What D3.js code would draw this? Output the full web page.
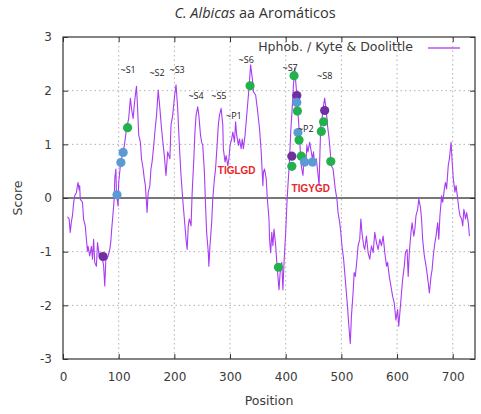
<!DOCTYPE html>
<html><head><meta charset="utf-8">
<script src="https://cdn.jsdelivr.net/npm/d3@7"></script>
<style>body{margin:0;background:#fff}svg{display:block}</style>
</head><body>
<svg id="chart" width="481" height="414"></svg>
<script>
// ---- data ----
const xTicks = [0,100,200,300,400,500,600,700];
const yTicks = [-3,-2,-1,0,1,2,3];
const seriesName = "Hphob. / Kyte & Doolittle";
const profile = [[8,-0.35],[11,-0.39],[13,-0.64],[15,-0.45],[17,-0.33],[19,-0.1],[21,0.04],[24,0.1],[27,0.29],[29,0.15],[30,0.23],[31,-0.02],[35,-0.08],[37,-0.4],[40,-0.52],[42,-0.77],[44,-0.99],[45,-0.9],[48,-1.08],[51,-0.9],[53,-1.14],[55,-0.77],[57,-1.2],[60,-1.27],[62,-0.83],[65,-1.08],[67,-1.02],[71,-1.14],[73,-1.27],[75,-1.64],[77,-1.14],[79,-1.14],[81,-1.08],[84,-0.96],[86,-0.8],[87,-0.64],[90,-0.27],[92,-0.02],[93,0.36],[95,0.54],[96,0.1],[98,-0.08],[99,-0.15],[100,0.29],[103,0.6],[106,0.79],[109,0.9],[111,1.04],[114,1.29],[118,1.48],[121,1.86],[123,1.67],[126,1.48],[128,1.73],[130,1.92],[132,2.08],[134,1.67],[136,1.17],[139,1.04],[141,0.73],[144,0.54],[146,0.36],[148,0.23],[151,-0.27],[153,0.1],[156,0.23],[158,0.54],[160,0.67],[163,0.98],[165,1.23],[168,1.54],[171,2.01],[174,1.67],[177,1.29],[180,0.98],[182,0.79],[185,0.42],[188,0.86],[192,0.73],[194,1.36],[197,1.54],[200,1.86],[203,2.11],[206,1.67],[209,0.98],[212,0.42],[215,-0.02],[218,-0.39],[221,-0.77],[223,-0.96],[225,-0.52],[227,-0.39],[230,-0.52],[232,0.1],[235,0.73],[237,1.23],[239,1.54],[242,1.7],[244,1.54],[247,1.17],[249,1.04],[251,0.98],[254,0.48],[256,-0.14],[258,-0.64],[261,-1.02],[262,-1.27],[264,-0.89],[267,-0.46],[269,-0.02],[272,0.36],[274,0.54],[276,0.86],[279,1.36],[281,1.54],[284,1.67],[287,1.36],[288,0.92],[291,0.67],[293,0.79],[296,0.6],[298,0.73],[300,0.98],[303,1.1],[305,1.23],[308,1.04],[310,1.42],[312,1.17],[315,0.98],[317,1.1],[320,0.92],[322,1.1],[324,0.92],[327,1.17],[329,1.42],[332,1.79],[334,2.04],[337,2.48],[340,2.23],[342,1.98],[346,1.92],[349,1.67],[353,1.29],[356,0.86],[359,0.23],[360,0.48],[362,0.54],[365,0.36],[367,-0.02],[370,-0.39],[371,-0.77],[373,-1.02],[375,-0.64],[377,-0.89],[379,-0.58],[382,-0.89],[384,-1.2],[388,-1.71],[390,-1.39],[393,-1.2],[395,-1.71],[397,-1.2],[400,-0.64],[402,-0.14],[404,0.23],[407,0.73],[409,1.23],[412,1.73],[414,2.11],[416,2.42],[419,2.04],[421,1.73],[424,1.29],[426,0.92],[428,0.6],[431,0.42],[433,0.73],[436,0.6],[438,0.98],[440,0.86],[443,1.04],[445,0.92],[448,0.73],[450,0.86],[452,0.6],[455,0.73],[457,0.54],[460,0.23],[461,0.67],[463,1.36],[466,1.54],[468,1.73],[470,1.86],[473,1.61],[475,1.36],[478,1.1],[480,0.86],[482,0.6],[485,0.54],[487,0.36],[489,0.17],[492,-0.02],[494,-0.27],[497,-0.46],[499,-0.64],[501,-0.89],[504,-1.14],[506,-1.39],[509,-1.77],[511,-2.02],[513,-2.33],[516,-2.71],[518,-2.21],[521,-1.77],[523,-1.39],[525,-1.46],[528,-1.14],[530,-0.89],[533,-0.77],[535,-0.39],[537,-0.64],[540,-0.89],[542,-0.96],[545,-0.71],[548,-1.02],[551,-1.14],[554,-0.89],[557,-1.02],[560,-0.64],[563,-0.83],[566,-0.96],[569,-0.77],[572,-0.89],[575,-0.71],[578,-1.02],[581,-1.27],[583,-1.2],[586,-1.46],[589,-1.64],[592,-1.83],[595,-1.96],[598,-2.27],[601,-2.08],[603,-2.39],[606,-2.02],[608,-1.77],[610,-1.52],[613,-1.27],[615,-1.02],[618,-0.96],[620,-1.46],[622,-1.02],[625,-0.64],[627,-0.46],[630,-0.71],[632,-0.58],[634,-0.33],[637,-0.21],[639,-0.02],[642,-0.17],[644,-0.39],[646,-0.77],[649,-1.08],[651,-1.2],[653,-1.33],[656,-1.58],[658,-1.77],[661,-1.46],[663,-1.33],[665,-1.08],[668,-0.83],[670,-0.71],[673,-0.46],[675,-0.77],[677,-0.33],[680,0.04],[682,-0.08],[685,0.17],[687,0.29],[689,0.17],[692,0.61],[694,0.73],[697,1.04],[699,0.67],[701,0.36],[704,0.11],[706,0.23],[709,-0.02],[711,-0.21],[713,-0.33],[716,-0.39],[718,-0.52],[720,-0.21],[723,-0.39],[725,-0.27],[728,-0.46],[730,-0.71]];
// highlighted residues: [position, score, kind]
const markers = [[72,-1.09,"purple"],[97,0.06,"blue"],[104,0.66,"blue"],[108,0.85,"blue"],[116,1.31,"green"],[336,2.09,"green"],[387,-1.29,"green"],[415,2.28,"green"],[420,1.91,"purple"],[420,1.78,"blue"],[421,1.62,"green"],[422,1.22,"blue"],[424,1.08,"green"],[411,0.78,"purple"],[411,0.59,"green"],[428,0.78,"green"],[434,0.67,"blue"],[448,0.67,"blue"],[464,1.24,"green"],[468,1.42,"green"],[470,1.63,"purple"],[481,0.68,"green"]];
// annotations: [text, position, score, kind]
const notes = [["~S1",117,2.37,"n"],["~S2",169,2.32,"n"],["~S3",205,2.37,"n"],["~S4",239,1.89,"n"],["~S5",280,1.89,"n"],["~P1",307,1.51,"n"],["~S6",329,2.56,"n"],["~S7",408,2.41,"n"],["~S8",470,2.26,"n"],["~P2",436,1.27,"n"],["TIGLGD",312,0.49,"r"],["TIGYGD",445,0.17,"r"]];

// ---- drawing ----
const svg = d3.select("#chart");
const L=63, R=475, T=37, B=359;
const x = d3.scaleLinear().domain([0,740]).range([L,R]);
const y = d3.scaleLinear().domain([-3,3]).range([B,T]);
const tickFont = "'DejaVu Sans', sans-serif";
const col = {green:"#22b14c", blue:"#5b9bd5", purple:"#7030a0"};
const lineCol = "#a93cf2";

// grid
const g = svg.append("g");
g.selectAll(".gx").data(xTicks.filter(d=>d>0)).join("line")
  .attr("x1",d=>x(d)).attr("x2",d=>x(d)).attr("y1",T).attr("y2",B)
  .attr("stroke","#b0b0b0").attr("stroke-width",1).attr("stroke-dasharray","1.5,3");
g.selectAll(".gy").data(yTicks.filter(d=>d>-3&&d<3&&d!==0)).join("line")
  .attr("y1",d=>y(d)).attr("y2",d=>y(d)).attr("x1",L).attr("x2",R)
  .attr("stroke","#b0b0b0").attr("stroke-width",1).attr("stroke-dasharray","1.5,3");
// zero line
g.append("line").attr("x1",L).attr("x2",R).attr("y1",y(0)).attr("y2",y(0))
  .attr("stroke","#4a4a4a").attr("stroke-width",1.5);

// axes with inward ticks
const ax = svg.append("g").attr("transform",`translate(0,${B})`)
  .call(d3.axisBottom(x).tickValues(xTicks).tickSize(-5).tickPadding(13));
const axT = svg.append("g").attr("transform",`translate(0,${T})`)
  .call(d3.axisTop(x).tickValues(xTicks).tickSize(-5).tickFormat(""));
const ay = svg.append("g").attr("transform",`translate(${L},0)`)
  .call(d3.axisLeft(y).tickValues(yTicks).tickSize(-5).tickPadding(11).tickFormat(d3.format("d")));
const ayR = svg.append("g").attr("transform",`translate(${R},0)`)
  .call(d3.axisRight(y).tickValues(yTicks).tickSize(-5).tickFormat(""));
[ax,axT,ay,ayR].forEach(a=>{
  a.select(".domain").remove();
  a.selectAll(".tick line").attr("stroke","#333");
  a.selectAll("text").attr("font-family",tickFont).attr("font-size",12).attr("fill","#3a3a3a");
});
ay.selectAll("text").text(d=>d<0?"-"+Math.abs(d):d);

// line
svg.append("path").datum(profile)
  .attr("d", d3.line().x(d=>x(d[0])).y(d=>y(d[1])))
  .attr("fill","none").attr("stroke",lineCol).attr("stroke-width",1.1).attr("stroke-linejoin","round");

// frame
svg.append("rect").attr("x",L).attr("y",T).attr("width",R-L).attr("height",B-T)
  .attr("fill","none").attr("stroke","#333").attr("stroke-width",1.2);

// markers
svg.selectAll(".mk").data(markers).join("circle")
  .attr("cx",d=>x(d[0])).attr("cy",d=>y(d[1])).attr("r",4.6)
  .attr("fill",d=>col[d[2]]);

// annotations
svg.selectAll(".nt").data(notes).join("text")
  .attr("x",d=>x(d[1])).attr("y",d=>y(d[2]))
  .attr("text-anchor","middle").attr("dominant-baseline","middle")
  .attr("font-family", d=>d[3]==="r" ? "'Liberation Sans', Arial, sans-serif" : "'Open Sans', sans-serif")
  .attr("font-size", d=>d[3]==="r" ? 10 : 9)
  .attr("font-weight", d=>d[3]==="r" ? "bold" : "normal")
  .attr("fill", d=>d[3]==="r" ? "#e8252a" : "#222")
  .text(d=>d[0]);

// legend
svg.append("text").attr("x",413).attr("y",47).attr("text-anchor","end").attr("dominant-baseline","middle")
  .attr("font-family",tickFont).attr("font-size",12.5).attr("fill","#3a3a3a").text(seriesName);
svg.append("line").attr("x1",428).attr("x2",460).attr("y1",48).attr("y2",48)
  .attr("stroke",lineCol).attr("stroke-width",1.3);

// axis titles
svg.append("text").attr("x",(L+R)/2).attr("y",405).attr("text-anchor","middle")
  .attr("font-family",tickFont).attr("font-size",12.5).attr("fill","#3a3a3a").text("Position");
svg.append("text").attr("transform",`translate(22,${(T+B)/2}) rotate(-90)`).attr("text-anchor","middle")
  .attr("font-family",tickFont).attr("font-size",12.5).attr("fill","#3a3a3a").text("Score");

// title
const tt = svg.append("text").attr("x",255).attr("y",18).attr("text-anchor","middle")
  .attr("font-family","'Open Sans', sans-serif").attr("font-size",14.5).attr("fill","#333");
tt.append("tspan").attr("font-style","italic").text("C. Albicas");
tt.append("tspan").text(" aa Aromáticos");
</script>
</body></html>
